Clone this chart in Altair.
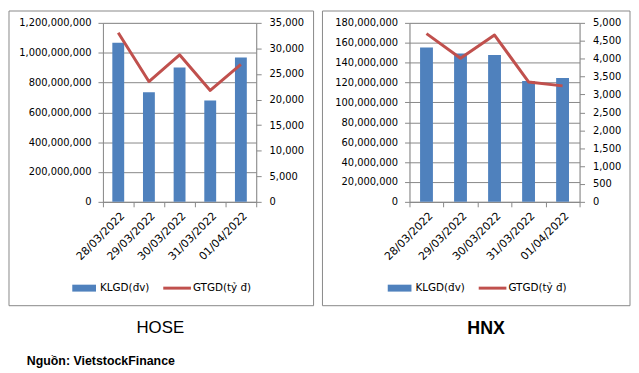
import altair as alt
import pandas as pd

dates = ["28/03/2022", "29/03/2022", "30/03/2022", "31/03/2022", "01/04/2022"]
hose_klgd = [1066000000, 735000000, 900000000, 680000000, 967000000]
hose_gtgd = [33070, 23530, 28750, 21790, 26880]
hnx_klgd = [155300000, 149300000, 147700000, 121600000, 124600000]
hnx_gtgd = [4700, 4010, 4660, 3350, 3240]

S1 = "KLGD(đv)"
S2 = "GTGD(tỷ đ)"
BLUE = "#4F81BD"
RED = "#C0504D"
GRAY = "#888888"
FONT = "DejaVu Sans"

SHAPE_EXPR = ("datum.value === '" + S1 + "' ? 'M-0.857,-0.25H0.857V0.25H-0.857Z' "
              ": 'M-1,-0.107H1V0.107H-1Z'")
FILL_EXPR = "datum.value === '" + S1 + "' ? '" + BLUE + "' : '" + RED + "'"


def panel(klgd, gtgd, lmax, lstep, rmax, rstep, w, box, title, tfont, tweight, tsize, tdx, lx):
    df = pd.DataFrame({"date": dates, "klgd": klgd, "gtgd": gtgd,
                       "s1": [S1] * len(dates), "s2": [S2] * len(dates)})
    h = 181
    xenc = alt.X(
        "date:N", sort=dates,
        scale=alt.Scale(paddingInner=0, paddingOuter=0),
        axis=alt.Axis(title=None, labelAngle=-45, tickBand="extent", tickSize=5,
                      labelPadding=3, domainColor=GRAY, tickColor=GRAY, labelColor="black",
                      labelFont=FONT, labelFontSize=11),
    )
    cscale = alt.Scale(domain=[S1, S2], range=[BLUE, RED])
    leg = alt.Legend(title=None, orient="none", legendX=lx, legendY=254, direction="horizontal",
                     symbolSize=784, symbolStrokeWidth=0, labelFont=FONT, labelFontSize=10.5,
                     labelColor="black", labelOffset=2, columnPadding=13,
                     symbolType=alt.ExprRef(expr=SHAPE_EXPR),
                     symbolFillColor=alt.ExprRef(expr=FILL_EXPR), symbolOpacity=1)
    boxdf = pd.DataFrame({"k": [0]})
    frame = alt.Chart(boxdf).mark_rect(fill="transparent", stroke=GRAY, strokeWidth=1).encode(
        x=alt.value(box[0]), x2=alt.value(box[1]), y=alt.value(-12), y2=alt.value(286)
    )
    bars = alt.Chart(df).mark_bar(size=12 if w < 160 else 13).encode(
        x=xenc,
        y=alt.Y("klgd:Q", scale=alt.Scale(domain=[0, lmax], nice=False),
                axis=alt.Axis(title=None, orient="left", values=list(range(0, lmax + 1, lstep)),
                              format=",d", grid=True, gridColor=GRAY, domainColor=GRAY,
                              tickColor=GRAY, tickSize=5, labelPadding=7, labelColor="black",
                              labelFont=FONT, labelFontSize=10)),
        color=alt.Color("s1:N", scale=cscale, legend=leg),
    )
    line = alt.Chart(df).mark_line(strokeWidth=3, strokeJoin="round").encode(
        x=xenc,
        y=alt.Y("gtgd:Q", scale=alt.Scale(domain=[0, rmax], nice=False),
                axis=alt.Axis(title=None, orient="right", values=list(range(0, rmax + 1, rstep)),
                              format=",d", grid=False, domainColor=GRAY, tickColor=GRAY,
                              tickSize=5, labelPadding=8, labelColor="black",
                              labelFont=FONT, labelFontSize=10)),
        color=alt.Color("s2:N", scale=cscale, legend=leg),
    )
    return alt.layer(frame, bars, line).resolve_scale(y="independent").properties(
        width=w, height=h,
        title=alt.TitleParams(title, orient="bottom", anchor="middle", frame="bounds",
                              offset=14, dx=tdx, font=tfont, fontSize=tsize, fontWeight=tweight,
                              color="black"),
    )


left = panel(hose_klgd, hose_gtgd, 1200000000, 200000000, 35000, 5000, 155, (-95, 213),
             "HOSE", "Liberation Sans Narrow, Liberation Sans, sans-serif", "normal", 17, -1, -33)
right = panel(hnx_klgd, hnx_gtgd, 180000000, 20000000, 5000, 500, 172, (-88, 223),
              "HNX", "Liberation Sans, sans-serif", "bold", 18, 10, -24)

chart = alt.hconcat(left, right, spacing=7).resolve_legend(color="independent").resolve_scale(
    color="independent"
).properties(
    padding=0,
    title=alt.TitleParams("Nguồn: VietstockFinance", orient="bottom", anchor="start", frame="bounds",
                          offset=17, dx=19, font="Liberation Sans", fontSize=12.5,
                          fontWeight="bold", color="black"),
).configure_view(stroke="transparent").configure(background="white")

chart.save("out.html", embed_options={"renderer": "svg", "actions": False})
